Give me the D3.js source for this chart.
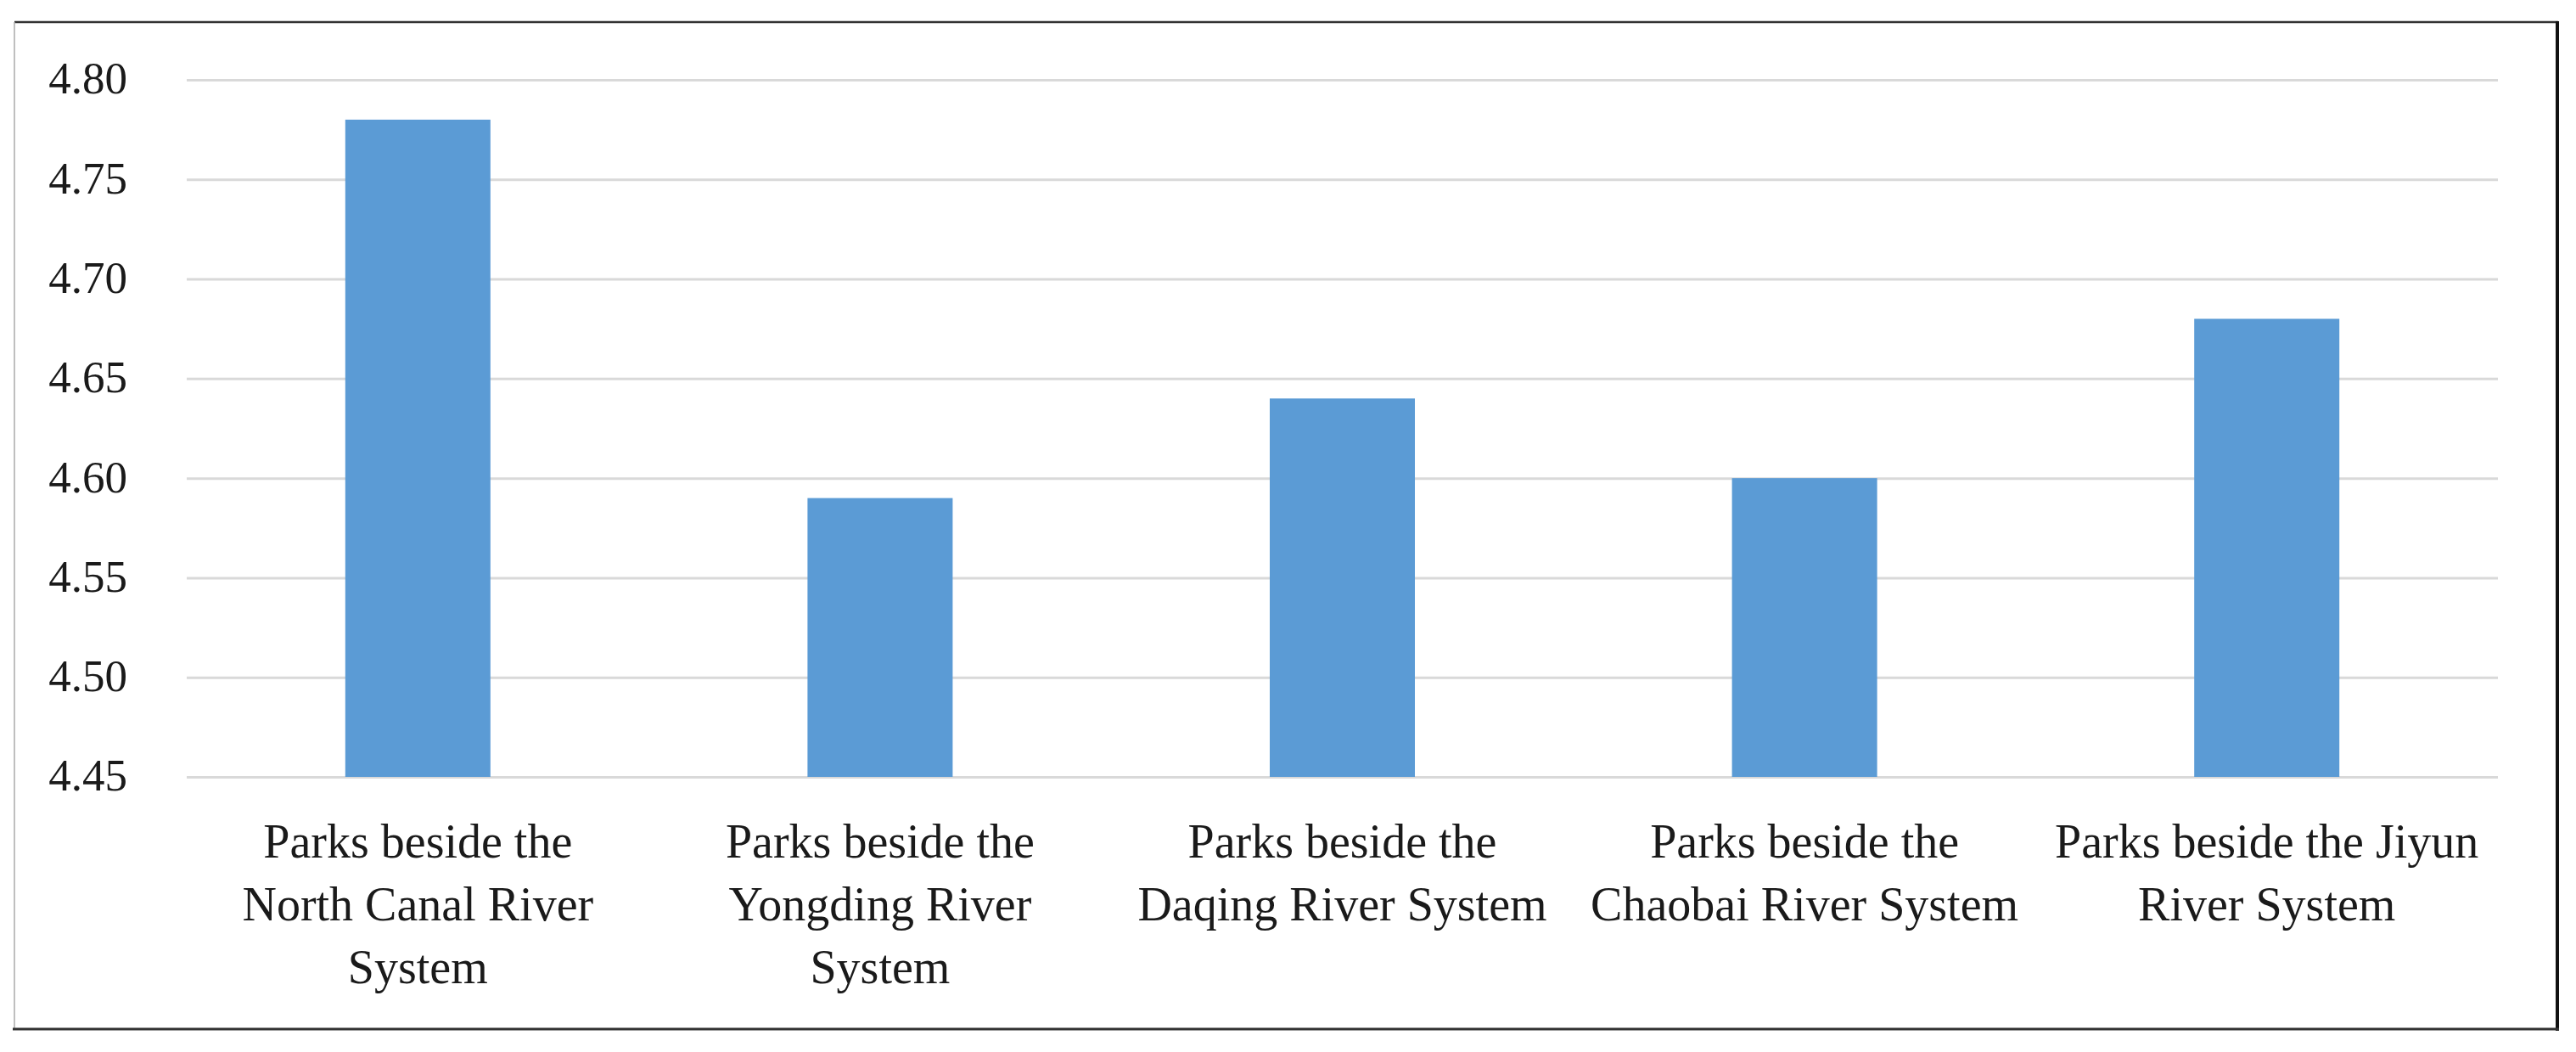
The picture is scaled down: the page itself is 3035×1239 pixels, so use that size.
<!DOCTYPE html>
<html>
<head>
<meta charset="utf-8">
<script src="https://cdn.jsdelivr.net/npm/d3@7"></script>
<style>
    body { margin: 0; background: #fff; }
    svg { display: block; }
    text { font-family: "Palatino Linotype", "Book Antiqua", Palatino, "Liberation Serif", serif; fill: #1a1a1a; }
</style>
</head>
<body>
<svg id="chart"></svg>
<script>
// categories, each label split into the lines it shows on
const categories = ['North Canal', 'Yongding', 'Daqing', 'Chaobai', 'Jiyun'];
const categoryLines = [
    ['Parks beside the', 'North Canal River', 'System'],
    ['Parks beside the', 'Yongding River', 'System'],
    ['Parks beside the', 'Daqing River System'],
    ['Parks beside the', 'Chaobai River System'],
    ['Parks beside the Jiyun', 'River System']
];
const values = [4.78, 4.59, 4.64, 4.60, 4.68];
const yTicks = [4.45, 4.50, 4.55, 4.60, 4.65, 4.70, 4.75, 4.80];

const width = 3035;
const height = 1239;
const plot = { left: 220, right: 2943, top: 94, bottom: 915 };

const svg = d3.select('#chart')
    .attr('width', width)
    .attr('height', height);

const x = d3.scaleBand()
    .domain(categories)
    .range([plot.left, plot.right])
    .paddingInner(0.686)
    .paddingOuter(0.343);

const y = d3.scaleLinear()
    .domain([4.45, 4.80])
    .range([plot.bottom, plot.top]);

// frame round the whole chart
svg.append('line').attr('x1', 17).attr('x2', 3014).attr('y1', 26).attr('y2', 26)
    .attr('stroke', '#333').attr('stroke-width', 2.5);
svg.append('line').attr('x1', 17).attr('x2', 17).attr('y1', 26).attr('y2', 1212)
    .attr('stroke', '#aaa').attr('stroke-width', 1.5);
svg.append('line').attr('x1', 3013).attr('x2', 3013).attr('y1', 25).attr('y2', 1214)
    .attr('stroke', '#111').attr('stroke-width', 4);
svg.append('line').attr('x1', 15).attr('x2', 3015).attr('y1', 1212).attr('y2', 1212)
    .attr('stroke', '#333').attr('stroke-width', 3);

// gridlines
const grid = svg.append('g')
    .attr('transform', `translate(${plot.left},0)`)
    .call(d3.axisLeft(y).tickValues(yTicks).tickSize(-(plot.right - plot.left)).tickFormat(''));
grid.select('.domain').remove();
grid.selectAll('.tick line').attr('stroke', '#d9d9d9').attr('stroke-width', 3);

// y tick labels
const yAxis = svg.append('g')
    .attr('transform', `translate(${plot.left},0)`)
    .call(d3.axisLeft(y).tickValues(yTicks).tickSize(0).tickPadding(70).tickFormat(d3.format('.2f')));
yAxis.select('.domain').remove();
yAxis.selectAll('text')
    .attr('font-size', 53)
    .attr('font-family', null)
    .attr('fill', '#1a1a1a')
    .attr('dy', '0.3em');

// bars
svg.append('g')
    .selectAll('rect')
    .data(values)
    .enter().append('rect')
    .attr('x', (d, i) => x(categories[i]))
    .attr('y', d => y(d))
    .attr('width', x.bandwidth())
    .attr('height', d => y(4.45) - y(d))
    .attr('fill', '#5b9bd5');

// category labels
const labels = svg.append('g')
    .selectAll('text')
    .data(categoryLines)
    .enter().append('text')
    .attr('font-size', 56)
    .attr('text-anchor', 'middle');

labels.selectAll('tspan')
    .data((d, i) => d.map(line => ({ line, i })))
    .enter().append('tspan')
    .attr('x', d => x(categories[d.i]) + x.bandwidth() / 2)
    .attr('y', (d, j) => plot.bottom + 95 + j * 74)
    .text(d => d.line);
</script>
</body>
</html>
